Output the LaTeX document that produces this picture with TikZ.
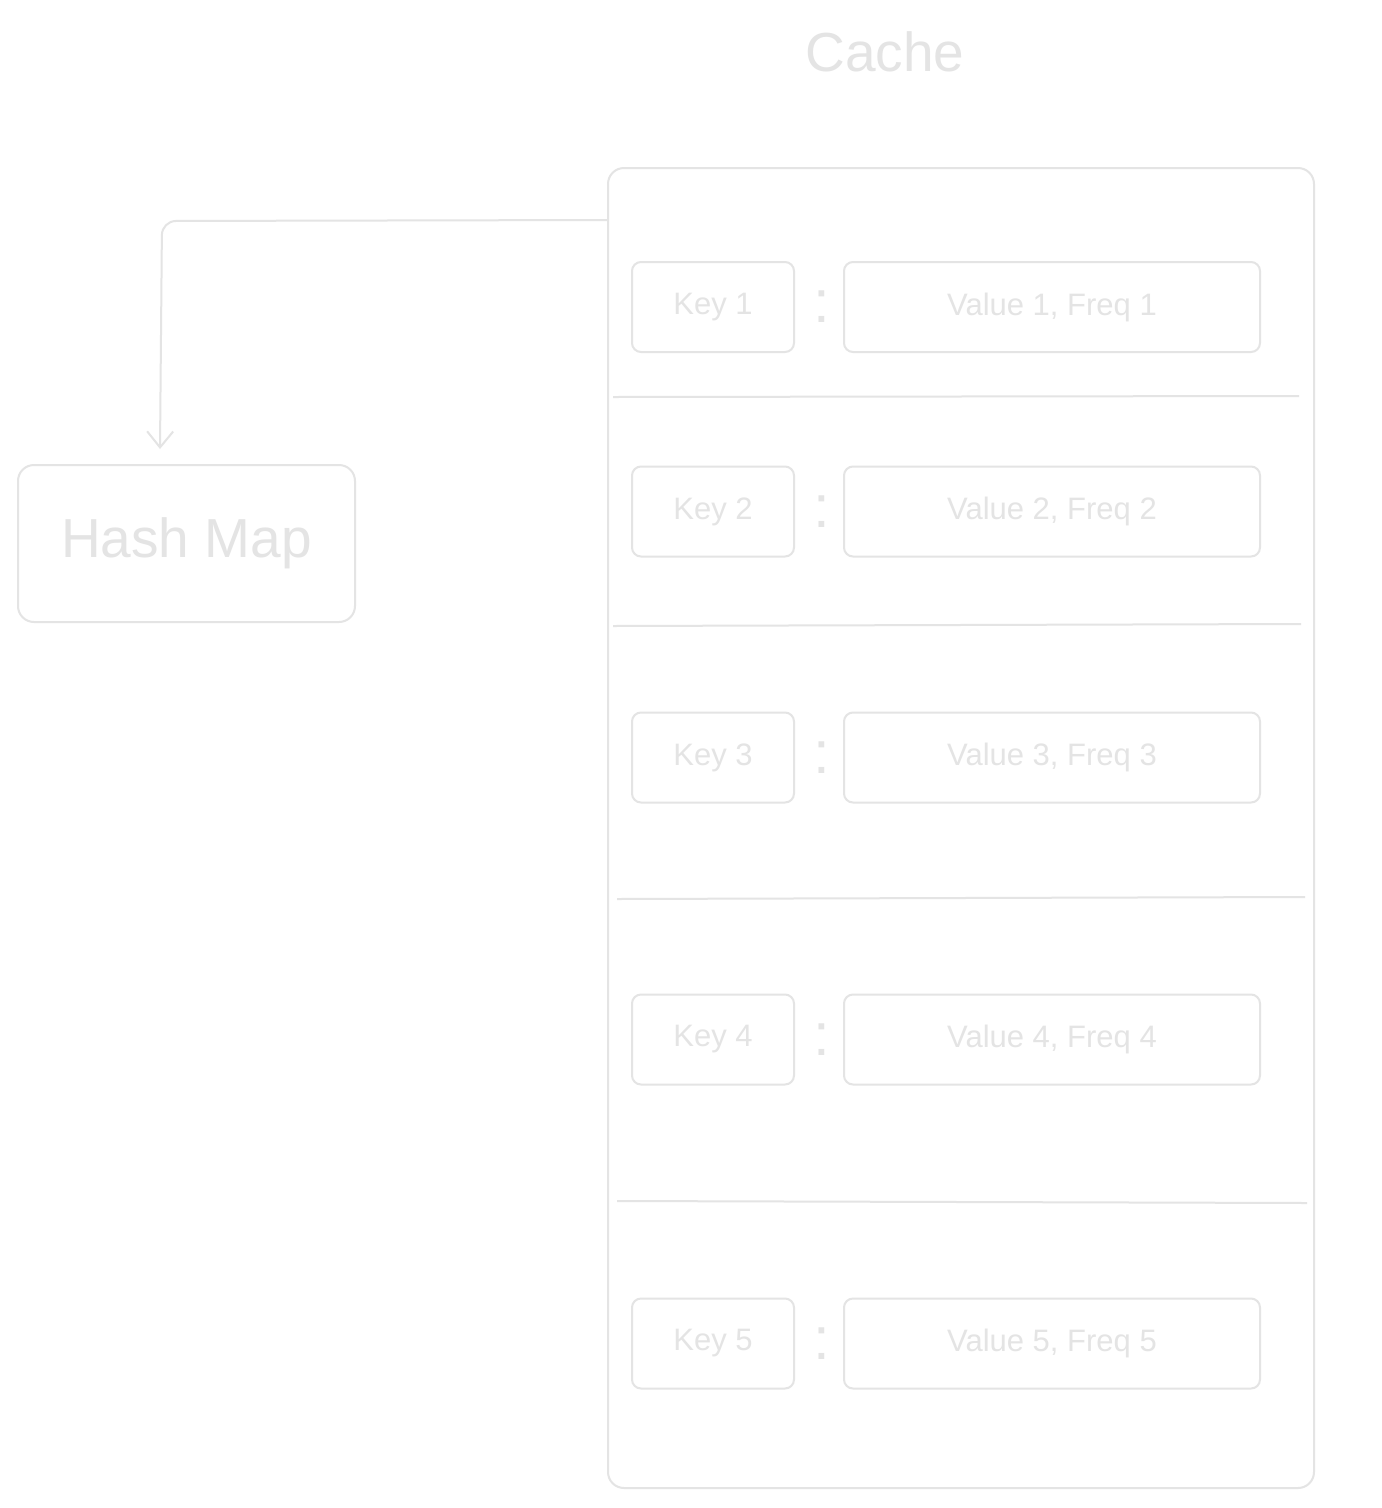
\documentclass[tikz,border=0pt]{standalone}
\usepackage{fontspec}
\setmainfont{Liberation Sans}
\usetikzlibrary{arrows.meta,calc}
\definecolor{ink}{RGB}{228,228,228}
\begin{document}
\begin{tikzpicture}[x=1pt,y=-1pt,
  line width=2pt, draw=ink, text=ink,
  box/.style={draw=ink, line width=2pt, rounded corners=9pt, inner sep=0pt, font=\fontsize{31}{37}\selectfont},
  keybox/.style={box, minimum width=162pt, minimum height=90pt},
  valbox/.style={box, minimum width=416pt, minimum height=90pt},
  colon/.style={anchor=base, inner sep=0pt, font=\fontsize{60}{70}\selectfont},
  sep/.style={draw=ink, line width=2pt},
  arr/.style={draw=ink, line width=2pt, rounded corners=14pt, -{Straight Barb[length=16pt,width=26pt,line width=2pt]}}]
\useasboundingbox (0,0) rectangle (1382,1508);
\fill[white] (0,0) rectangle (1382,1508);

\node[text=ink, font=\fontsize{55}{66}\selectfont] (title) at (885,52) {Cache};

\node[draw=ink, line width=2pt, rounded corners=16pt, minimum width=706pt, minimum height=1320pt, inner sep=0pt] (cache) at (961,828) {};

\node[draw=ink, line width=2pt, rounded corners=16pt, minimum width=337pt, minimum height=157pt, inner sep=0pt, font=\fontsize{55}{66}\selectfont] (hash) at (186.5,543.5) {Hash Map};

\coordinate (tip) at ($(hash.north)+(-26.5,-15)$);
\draw[arr] ($(cache.north west)+(0,53)$) -- (162,221) -- (tip);

\draw[sep] (613,397) -- (1299,396);
\draw[sep] (613,626) -- (1301,624);
\draw[sep] (617,899) -- (1305,897);
\draw[sep] (617,1201) -- (1307,1203);

\foreach \i/\y in {1/307, 2/511.5, 3/757.5, 4/1039.5, 5/1343.5}{
  \node[keybox] (k\i) at (713,\y) {Key \i};
  \node[valbox] (v\i) at (1052,\y) {Value \i, Freq \i};
  \node[colon] (c\i) at (822,\y+15.5) {:};
}
\end{tikzpicture}
\end{document}
